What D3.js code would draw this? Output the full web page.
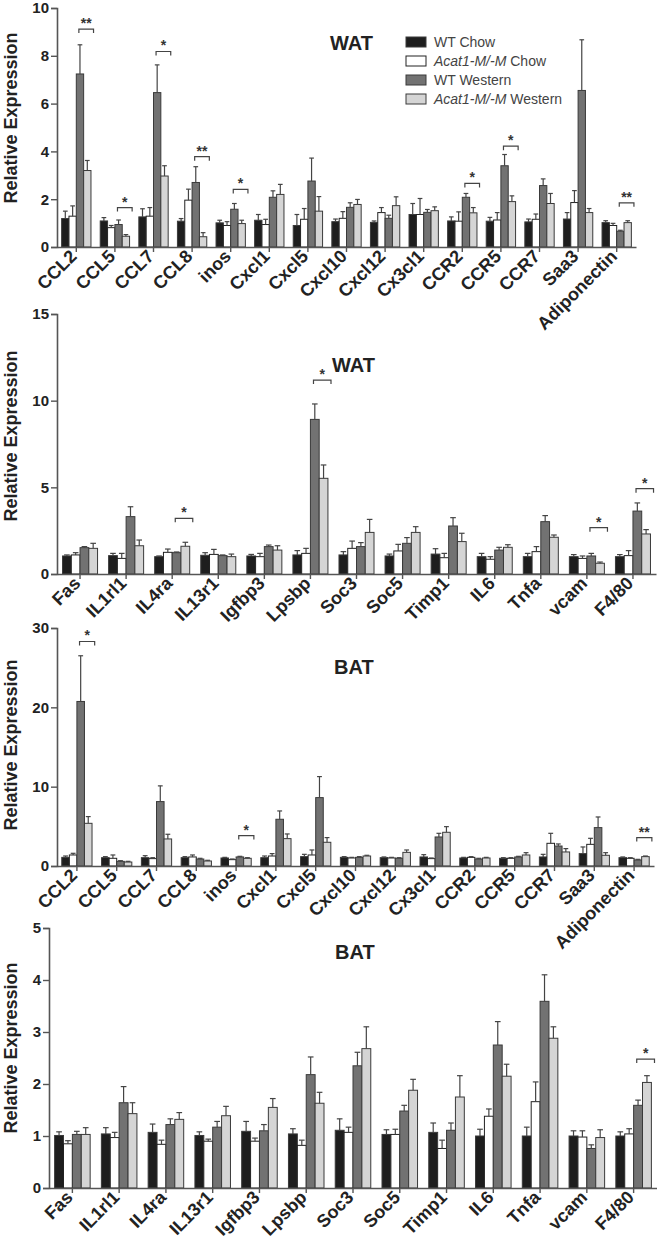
<!DOCTYPE html>
<html><head><meta charset="utf-8">
<script src="https://cdn.jsdelivr.net/npm/d3@7"></script>
<style>
body{margin:0;background:#fff}
text{font-family:Arial,"Liberation Sans",Helvetica,sans-serif}
</style>
</head><body>
<svg id="chart" width="657" height="1246"></svg>
<script>
// ---------- DATA ----------
const seriesNames = ["WT Chow", "Acat1-M/-M Chow", "WT Western", "Acat1-M/-M Western"];

// Panel A: WAT chemokines
const catsA = ["CCL2","CCL5","CCL7","CCL8","inos","Cxcl1","Cxcl5","Cxcl10","Cxcl12","Cx3cl1","CCR2","CCR5","CCR7","Saa3","Adiponectin"];
const wtChowA      = [1.19,1.09,1.26,1.08,1.01,1.12,0.90,1.06,1.03,1.36,1.09,1.08,1.05,1.17,1.02];
const wtChowSemA   = [0.31,0.14,0.34,0.11,0.11,0.24,0.46,0.11,0.06,0.46,0.17,0.16,0.12,0.27,0.08];
const koChowA      = [1.29,0.81,1.29,1.96,0.90,0.94,1.16,1.20,1.44,1.36,1.08,1.13,1.16,1.86,0.90];
const koChowSemA   = [0.43,0.09,0.36,0.46,0.16,0.22,0.45,0.28,0.21,0.67,0.39,0.31,0.22,0.50,0.09];
const wtWestA      = [7.24,0.94,6.46,2.70,1.58,2.08,2.76,1.66,1.20,1.45,2.08,3.40,2.57,6.55,0.66];
const wtWestSemA   = [1.22,0.19,1.16,0.66,0.24,0.27,0.96,0.19,0.13,0.12,0.16,0.47,0.28,2.12,0.04];
const koWestA      = [3.20,0.45,2.97,0.43,0.98,2.20,1.50,1.78,1.73,1.52,1.43,1.90,1.82,1.44,1.02];
const koWestSemA   = [0.42,0.07,0.43,0.17,0.14,0.42,0.61,0.21,0.37,0.16,0.22,0.24,0.42,0.17,0.08];
const sigCatsA  = ["CCL2","CCL5","CCL7","CCL8","inos","CCR2","CCR5","Adiponectin"];
const sigMarksA = ["**","*","*","**","*","*","*","**"];
const sigLevelA = [9.12,1.65,8.18,3.78,2.41,2.66,4.22,1.85];
const ticksA = [0,2,4,6,8,10];

// Panel B: WAT others
const catsB = ["Fas","IL1rl1","IL4ra","IL13r1","Igfbp3","Lpsbp","Soc3","Soc5","Timp1","IL6","Tnfa","vcam","F4/80"];
const wtChowB      = [1.04,1.06,1.00,1.08,1.04,1.10,1.10,1.04,1.15,1.00,1.00,1.00,1.00];
const wtChowSemB   = [0.06,0.13,0.04,0.15,0.09,0.25,0.19,0.11,0.31,0.19,0.19,0.12,0.12];
const koChowB      = [1.10,0.90,1.25,1.13,1.00,1.19,1.48,1.33,0.94,0.85,1.29,0.90,1.06];
const koChowSemB   = [0.13,0.29,0.19,0.29,0.19,0.29,0.42,0.38,0.25,0.15,0.29,0.14,0.29];
const wtWestB      = [1.52,3.31,1.23,1.06,1.58,8.92,1.58,1.77,2.77,1.38,3.02,1.04,3.63];
const wtWestSemB   = [0.06,0.57,0.04,0.04,0.09,0.89,0.23,0.33,0.48,0.16,0.35,0.15,0.47];
const koWestB      = [1.48,1.63,1.60,1.00,1.38,5.52,2.40,2.40,1.87,1.54,2.12,0.62,2.31];
const koWestSemB   = [0.29,0.33,0.23,0.15,0.25,0.77,0.75,0.33,0.48,0.15,0.13,0.07,0.25];
const sigCatsB  = ["IL4ra","Lpsbp","vcam","F4/80"];
const sigMarksB = ["*","*","*","*"];
const sigLevelB = [3.21,11.19,2.67,4.92];
const ticksB = [0,5,10,15];

// Panel C: BAT chemokines
const catsC = catsA;
const wtChowC      = [1.09,1.05,1.05,1.05,1.01,1.05,1.18,1.09,1.05,1.14,1.01,0.97,1.14,1.56,1.05];
const wtChowSemC   = [0.17,0.13,0.25,0.13,0.08,0.21,0.29,0.09,0.09,0.29,0.08,0.08,0.33,0.84,0.09];
const koChowC      = [1.39,0.97,0.93,1.14,0.80,1.26,1.39,1.01,1.01,0.93,1.09,0.97,2.86,2.73,0.97];
const koChowSemC   = [0.21,0.42,0.12,0.25,0.08,0.30,0.63,0.08,0.08,0.08,0.09,0.08,1.26,0.76,0.08];
const wtWestC      = [20.74,0.59,8.12,0.88,1.14,5.89,8.62,1.09,0.97,3.66,0.88,1.14,2.52,4.84,0.76];
const wtWestSemC   = [5.76,0.08,1.98,0.09,0.08,1.05,2.65,0.09,0.08,0.46,0.09,0.08,0.26,1.34,0.08];
const koWestC      = [5.38,0.50,3.41,0.63,0.97,3.45,2.99,1.26,1.72,4.25,1.01,1.39,1.77,1.35,1.18];
const koWestSemC   = [0.85,0.09,0.59,0.09,0.08,0.59,0.59,0.09,0.30,0.71,0.08,0.29,0.42,0.33,0.08];
const sigCatsC  = ["CCL2","inos","Adiponectin"];
const sigMarksC = ["*","*","**"];
const sigLevelC = [28.3,3.83,3.58];
const ticksC = [0,10,20,30];

// Panel D: BAT others
const catsD = catsB;
const wtChowD      = [1.01,1.04,1.07,1.01,1.09,1.04,1.11,1.03,1.07,1.00,1.00,1.00,1.00];
const wtChowSemD   = [0.07,0.12,0.16,0.07,0.19,0.10,0.22,0.09,0.18,0.13,0.17,0.10,0.08];
const koChowD      = [0.85,0.97,0.84,0.90,0.90,0.82,1.07,1.03,0.76,1.38,1.66,0.98,1.04];
const koChowSemD   = [0.06,0.10,0.08,0.04,0.06,0.10,0.10,0.10,0.16,0.14,0.38,0.12,0.10];
const wtWestD      = [1.03,1.64,1.22,1.17,1.10,2.18,2.35,1.48,1.11,2.75,3.59,0.76,1.59];
const wtWestSemD   = [0.06,0.31,0.11,0.11,0.12,0.34,0.26,0.11,0.14,0.45,0.51,0.07,0.10];
const koWestD      = [1.03,1.43,1.32,1.39,1.55,1.63,2.68,1.88,1.75,2.15,2.88,0.97,2.03];
const koWestSemD   = [0.13,0.21,0.13,0.18,0.17,0.21,0.42,0.21,0.41,0.23,0.22,0.15,0.13];
const sigCatsD  = ["F4/80"];
const sigMarksD = ["*"];
const sigLevelD = [2.48];
const ticksD = [0,1,2,3,4,5];

// ---------- LAYOUT / STYLE ----------
const fills = ["#1e1e1e","#ffffff","#727272","#d5d5d5"];
const panels = [
  {cats:catsA, vals:[wtChowA,koChowA,wtWestA,koWestA], sems:[wtChowSemA,koChowSemA,wtWestSemA,koWestSemA],
   sigC:sigCatsA, sigM:sigMarksA, sigL:sigLevelA, ticks:ticksA,
   top:8, bottom:247, left:57, right:636, title:"WAT", tx:330, ty:50, ly:118, legend:true},
  {cats:catsB, vals:[wtChowB,koChowB,wtWestB,koWestB], sems:[wtChowSemB,koChowSemB,wtWestSemB,koWestSemB],
   sigC:sigCatsB, sigM:sigMarksB, sigL:sigLevelB, ticks:ticksB,
   top:314, bottom:574, left:57, right:656, title:"WAT", tx:332, ty:372, ly:436},
  {cats:catsC, vals:[wtChowC,koChowC,wtWestC,koWestC], sems:[wtChowSemC,koChowSemC,wtWestSemC,koWestSemC],
   sigC:sigCatsC, sigM:sigMarksC, sigL:sigLevelC, ticks:ticksC,
   top:628, bottom:866, left:57, right:654, title:"BAT", tx:334, ty:674, ly:745},
  {cats:catsD, vals:[wtChowD,koChowD,wtWestD,koWestD], sems:[wtChowSemD,koChowSemD,wtWestSemD,koWestSemD],
   sigC:sigCatsD, sigM:sigMarksD, sigL:sigLevelD, ticks:ticksD,
   top:928, bottom:1188, left:49, right:657, title:"BAT", tx:335, ty:959, ly:1048}
];

const svg = d3.select("#chart");
const axisCol = "#555";

panels.forEach(p => {
  const g = svg.append("g");
  const x = d3.scaleBand().domain(p.cats).range([p.left, p.right]).paddingInner(0.24).paddingOuter(0.12);
  const xs = d3.scaleBand().domain(d3.range(4)).range([0, x.bandwidth()]);
  const y = d3.scaleLinear().domain([0, d3.max(p.ticks)]).range([p.bottom, p.top]);
  const bw = xs.bandwidth();

  // bars + error bars
  p.vals.forEach((arr, s) => {
    g.append("g").selectAll("rect").data(arr).join("rect")
      .attr("x", (d,i) => x(p.cats[i]) + xs(s))
      .attr("y", d => y(d))
      .attr("width", bw)
      .attr("height", d => y(0) - y(d))
      .attr("fill", fills[s])
      .attr("stroke", s === 1 ? "#222" : "#3a3a3a")
      .attr("stroke-width", 1);
    const eg = g.append("g").attr("stroke", "#444").attr("stroke-width", 1.2);
    arr.forEach((d,i) => {
      const cx = x(p.cats[i]) + xs(s) + bw/2;
      const top = y(d + p.sems[s][i]);
      eg.append("line").attr("x1", cx).attr("x2", cx).attr("y1", y(d)).attr("y2", top);
      eg.append("line").attr("x1", cx - bw*0.32).attr("x2", cx + bw*0.32).attr("y1", top).attr("y2", top);
    });
  });

  // y axis
  const ya = g.append("g").attr("transform", `translate(${p.left},0)`)
    .call(d3.axisLeft(y).tickValues(p.ticks).tickSize(6).tickPadding(2).tickFormat(d3.format("d")));
  ya.select(".domain").attr("stroke", axisCol).attr("stroke-width", 1.6);
  ya.selectAll(".tick line").attr("stroke", axisCol).attr("stroke-width", 1.4);
  ya.selectAll(".tick text").attr("font-size", 15).attr("font-weight", "bold").attr("fill", "#222")
    .attr("font-family", "Arial, 'Liberation Sans', sans-serif");

  // x axis (ticks only)
  const xa = g.append("g").attr("transform", `translate(0,${p.bottom})`)
    .call(d3.axisBottom(x).tickSize(5).tickSizeOuter(0).tickFormat(""));
  xa.select(".domain").attr("stroke", axisCol).attr("stroke-width", 1.6);
  xa.selectAll(".tick line").attr("stroke", axisCol).attr("stroke-width", 1.4);
  xa.selectAll(".tick text").remove();

  // x labels rotated -45
  const lab = g.append("g").selectAll("g.lab").data(p.cats).join("g")
    .attr("class", "lab")
    .attr("transform", d => `translate(${x(d) + x.bandwidth()/2 - 3},${p.bottom + 6})`);
  lab.append("g").attr("transform", "rotate(-45)")
    .append("text")
    .attr("text-anchor", "end").attr("dy", "0.35em")
    .attr("font-size", 18).attr("font-weight", "bold").attr("fill", "#222")
    .text(d => d);

  // y label
  g.append("text").attr("transform", `translate(17,${p.ly}) rotate(-90)`)
    .attr("text-anchor", "middle").attr("font-size", 18).attr("font-weight", "bold").attr("fill", "#222")
    .text("Relative Expression");

  // title
  g.append("text").attr("x", p.tx).attr("y", p.ty).attr("font-size", 20).attr("font-weight", "bold")
    .attr("fill", "#222").text(p.title);

  // significance brackets
  p.sigC.forEach((c, k) => {
    const x0 = x(c) + xs(2) + bw*0.35;
    const x1 = x(c) + xs(3) + bw*1.35;
    const yy = y(p.sigL[k]);
    g.append("path").attr("d", `M${x0},${yy+4}V${yy}H${x1}V${yy+4}`)
      .attr("fill", "none").attr("stroke", "#444").attr("stroke-width", 1.2);
    g.append("text").attr("x", (x0+x1)/2).attr("y", yy - 1).attr("text-anchor", "middle")
      .attr("font-size", 14).attr("font-weight", "bold").attr("fill", "#333").text(p.sigM[k]);
  });

  // legend
  if (p.legend) {
    const lg = g.append("g");
    seriesNames.forEach((nm, s) => {
      const yy = 37 + s*19;
      lg.append("rect").attr("x", 406).attr("y", yy).attr("width", 20).attr("height", 10)
        .attr("fill", fills[s]).attr("stroke", s === 1 ? "#222" : "#3a3a3a").attr("stroke-width", 1);
      const t = lg.append("text").attr("x", 434).attr("y", yy + 10).attr("font-size", 14).attr("fill", "#444");
      if (nm.startsWith("Acat1")) {
        t.append("tspan").attr("font-style", "italic").text("Acat1-M/-M");
        t.append("tspan").text(nm.slice(10));
      } else {
        t.text(nm);
      }
    });
  }
});
</script>
</body></html>
